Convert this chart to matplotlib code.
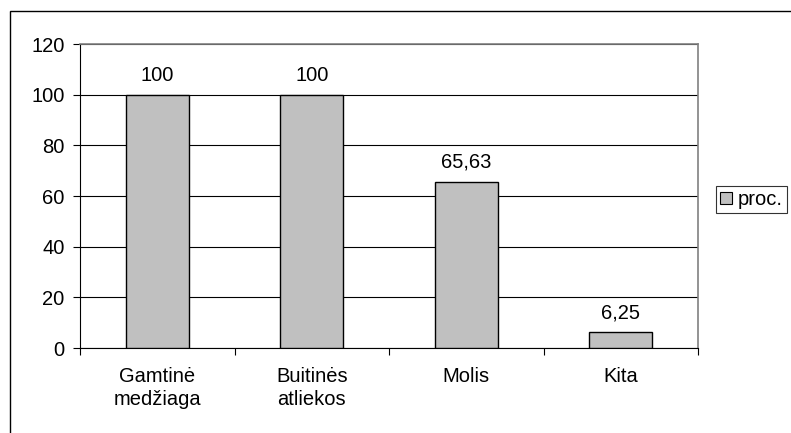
import matplotlib
matplotlib.use("Agg")
import matplotlib.pyplot as plt
from matplotlib.patches import Rectangle, Patch

categories = ["Gamtinė\nmedžiaga", "Buitinės\natliekos", "Molis", "Kita"]
values = [100, 100, 65.63, 6.25]
value_labels = ["100", "100", "65,63", "6,25"]
yticks = [0, 20, 40, 60, 80, 100, 120]
series_name = "proc."

plt.rcParams['font.family'] = ['Liberation Sans', 'DejaVu Sans']
plt.rcParams['font.size'] = 14.5

fig = plt.figure(figsize=(7.91, 4.33), dpi=100)
ax = fig.add_axes([80/791, 1-348/433, 618/791, 304/433])

x = list(range(len(categories)))
bars = ax.bar(x, values, width=0.41, color="#c0c0c0", edgecolor="black", linewidth=1, zorder=3)
for xi, v, lab in zip(x, values, value_labels):
    ax.text(xi, v + 4, lab, ha="center", va="bottom", fontsize=14.5)

ax.set_xlim(-0.5, len(categories) - 0.5)
ax.set_ylim(0, 120)
ax.set_yticks(yticks)
ax.yaxis.grid(True, color="black", linewidth=0.8, zorder=0)
ax.set_axisbelow(True)

ax.set_xticks([i + 0.5 for i in range(-1, len(categories))])
ax.set_xticklabels([])
ax.set_xticks(x, minor=True)
ax.set_xticklabels(categories, minor=True, linespacing=1.25)
ax.tick_params(axis="x", which="minor", length=0, pad=14)
ax.tick_params(axis="x", which="major", length=5, direction="out")
ax.tick_params(axis="y", length=5, direction="out", pad=6)

for s in ["left", "bottom"]:
    ax.spines[s].set_color("black")
for s in ["top", "right"]:
    ax.spines[s].set_color("#808080")
    ax.spines[s].set_linewidth(1.2)

# outer chart border
fig.patches.append(Rectangle((10/791, -0.1), 1.0, (433-11)/433 + 0.1,
                             transform=fig.transFigure, fill=False,
                             edgecolor="black", linewidth=1))

handle = Patch(facecolor="#c0c0c0", edgecolor="black", linewidth=0.8)
leg = fig.legend([handle], [series_name], loc="upper left",
                 bbox_to_anchor=(716/791, 1-186/433), frameon=True,
                 fancybox=False, edgecolor="black", handlelength=0.6,
                 handleheight=0.6, handletextpad=0.3, borderpad=0.2,
                 borderaxespad=0, fontsize=14.5)
leg.get_frame().set_linewidth(0.8)

fig.savefig("out.png", dpi=100)
